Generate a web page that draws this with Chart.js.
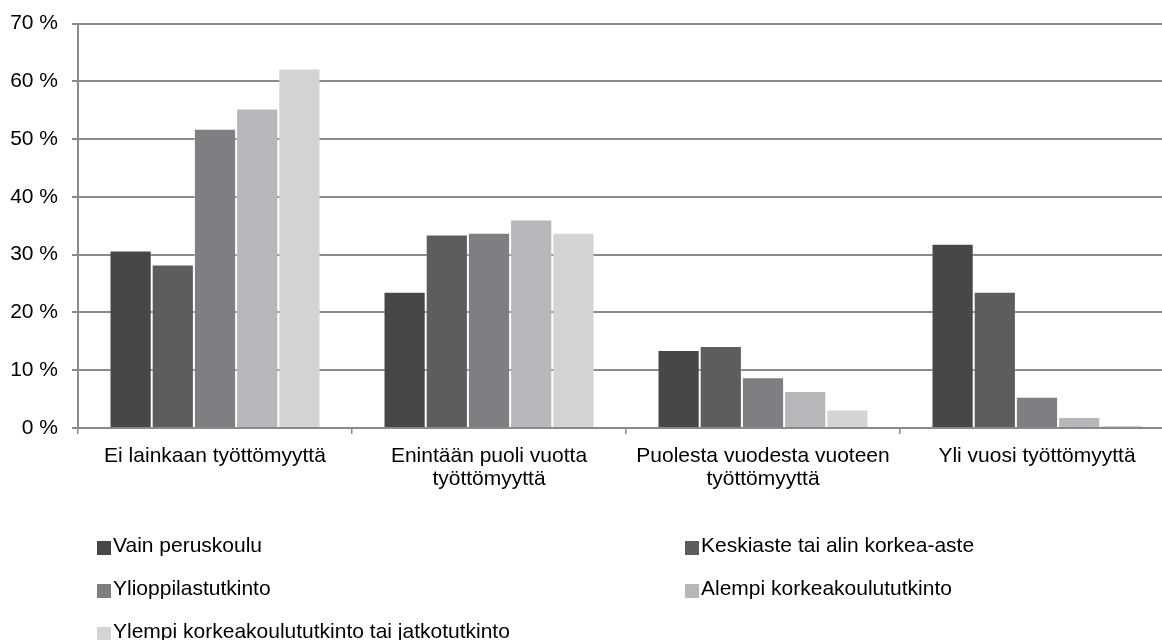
<!DOCTYPE html>
<html>
<head>
<meta charset="utf-8">
<script src="https://cdn.jsdelivr.net/npm/chart.js@4/dist/chart.umd.min.js"></script>
<style>
  html, body { margin: 0; padding: 0; background: #fff; overflow: hidden; width: 1162px; height: 640px; }
  #wrap { position: absolute; left: 0; top: 0; width: 1176px; height: 500px; }
  #legend { position: absolute; left: 0; top: 0; width: 1162px; height: 640px; pointer-events: none;
            font-family: "Liberation Sans", Arial, sans-serif; font-size: 21px; color: #000; }
  .item { position: absolute; height: 24px; line-height: 24px; white-space: nowrap; }
  .sw { position: absolute; left: 0; top: 8px; width: 14px; height: 14px; }
  .tx { position: absolute; left: 16px; top: 0; }
</style>
</head>
<body>
<div id="wrap"><canvas id="c" width="1176" height="500"></canvas></div>
<div id="legend"></div>
<script>
const categories = [
  "Ei lainkaan työttömyyttä",
  ["Enintään puoli vuotta", "työttömyyttä"],
  ["Puolesta vuodesta vuoteen", "työttömyyttä"],
  "Yli vuosi työttömyyttä"
];
const seriesNames = [
  "Vain peruskoulu",
  "Keskiaste tai alin korkea-aste",
  "Ylioppilastutkinto",
  "Alempi korkeakoulututkinto",
  "Ylempi korkeakoulututkinto tai jatkotutkinto"
];
const vainPeruskoulu = [30.7, 23.6, 13.5, 31.9];
const keskiaste = [28.3, 33.5, 14.2, 23.6];
const ylioppilas = [51.8, 33.8, 8.8, 5.4];
const alempiKk = [55.3, 36.1, 6.4, 1.9];
const ylempiKk = [62.2, 33.8, 3.2, 0.5];
const seriesValues = [vainPeruskoulu, keskiaste, ylioppilas, alempiKk, ylempiKk];
const yTicks = [0, 10, 20, 30, 40, 50, 60, 70];

const colors = ["#47474a", "#5d5d60", "#7e7f83", "#b6b7ba", "#d3d4d6"];
const FONT = '"Liberation Sans", Arial, sans-serif';

const datasets = seriesNames.map((name, i) => ({
  label: name,
  data: seriesValues[i],
  backgroundColor: colors[i],
  borderColor: "rgba(255,255,255,0.25)",
  borderWidth: 1,
  categoryPercentage: 0.77,
  barPercentage: 1.0
}));

new Chart(document.getElementById("c"), {
  type: "bar",
  data: { labels: categories, datasets },
  options: {
    responsive: false,
    animation: false,
    layout: { padding: { top: 23.5, left: 0, right: 2, bottom: 0 } },
    plugins: { legend: { display: false }, tooltip: { enabled: false } },
    scales: {
      x: {
        grid: { display: true, drawOnChartArea: false, drawTicks: true, tickLength: 6, color: "#8a8a8a", lineWidth: 1.5, offset: true },
        border: { display: true, color: "#8a8a8a", width: 2 },
        ticks: { color: "#000", font: { family: FONT, size: 21, lineHeight: 1.1 }, padding: 11, maxRotation: 0, autoSkip: false },
        afterFit: (axis) => { axis.height = 72; }
      },
      y: {
        min: 0, max: 70,
        afterBuildTicks: (axis) => { axis.ticks = yTicks.map(v => ({ value: v })); },
        grid: { color: "#8a8a8a", lineWidth: 2, tickLength: 6, drawTicks: true },
        border: { display: true, color: "#8a8a8a", width: 2 },
        ticks: { color: "#000", font: { family: FONT, size: 21 }, padding: 14, callback: (v) => v + " %" },
        afterFit: (axis) => { axis.width = 78; axis.paddingTop = 0; axis.paddingBottom = 0; }
      }
    }
  }
});

// HTML legend built from the dataset names/colours
const legendPos = [
  { x: 97, y: 533 }, { x: 685, y: 533 },
  { x: 97, y: 576 }, { x: 685, y: 576 },
  { x: 97, y: 619 }
];
const leg = document.getElementById("legend");
seriesNames.forEach((name, i) => {
  const d = document.createElement("div");
  d.className = "item";
  d.style.left = legendPos[i].x + "px";
  d.style.top = legendPos[i].y + "px";
  d.innerHTML = '<span class="sw" style="background:' + colors[i] + '"></span><span class="tx"></span>';
  d.querySelector(".tx").textContent = name;
  leg.appendChild(d);
});
</script>
</body>
</html>
